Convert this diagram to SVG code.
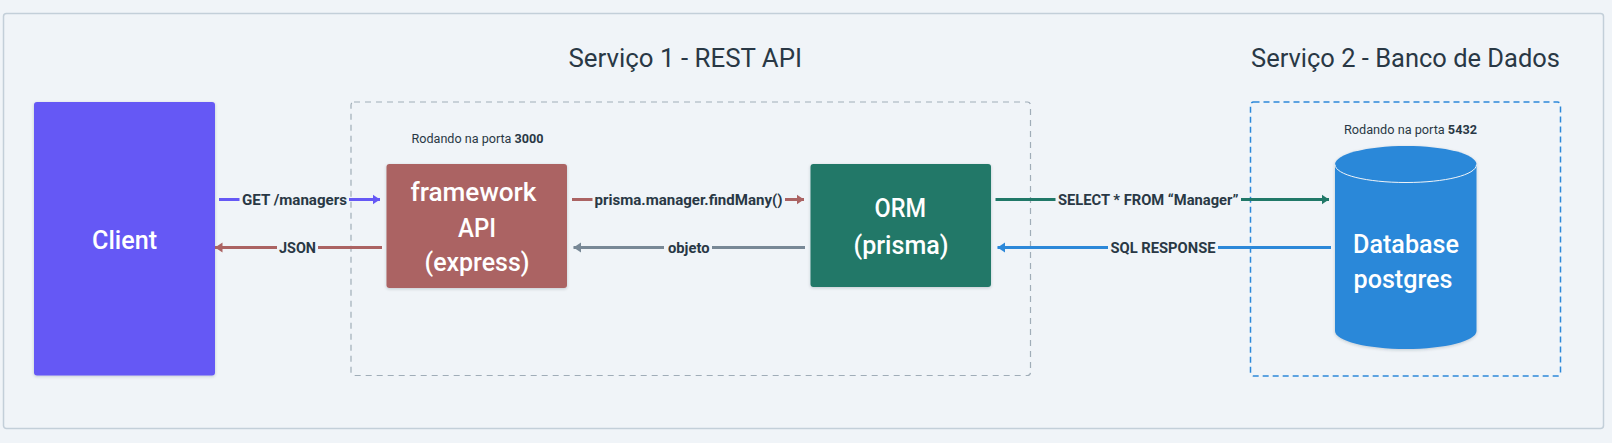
<svg xmlns="http://www.w3.org/2000/svg" width="1612" height="443" viewBox="0 0 1612 443">
<style>
text{font-family:"Roboto","Liberation Sans",sans-serif;fill:#293845}
.title{font-size:25px}
.note{font-size:12px}
.note tspan{font-weight:700}
.node text{fill:#fff;font-size:26px;font-weight:500;text-anchor:start}
.lbl{font-size:14.5px;font-weight:700}
.c{fill:none;stroke-width:3}
.box{filter:url(#sh)}
</style>
<defs>
<filter id="sh" x="-5%" y="-5%" width="110%" height="110%"><feDropShadow dx="0" dy="1" stdDeviation="1.5" flood-color="#293845" flood-opacity="0.22"/></filter>
<marker id="aP" markerUnits="userSpaceOnUse" markerWidth="10" markerHeight="12" refX="7.5" refY="6" orient="auto"><path d="M0 1L7.500 6L0 11Z" fill="#6558f5"/></marker>
<marker id="aR" markerUnits="userSpaceOnUse" markerWidth="10" markerHeight="12" refX="7.5" refY="6" orient="auto"><path d="M0 1L7.500 6L0 11Z" fill="#ab6363"/></marker>
<marker id="aG" markerUnits="userSpaceOnUse" markerWidth="10" markerHeight="12" refX="7.5" refY="6" orient="auto"><path d="M0 1L7.500 6L0 11Z" fill="#788896"/></marker>
<marker id="aT" markerUnits="userSpaceOnUse" markerWidth="10" markerHeight="12" refX="7.5" refY="6" orient="auto"><path d="M0 1L7.500 6L0 11Z" fill="#207868"/></marker>
<marker id="aB" markerUnits="userSpaceOnUse" markerWidth="10" markerHeight="12" refX="7.5" refY="6" orient="auto"><path d="M0 1L7.500 6L0 11Z" fill="#2c88d9"/></marker>
</defs>
<rect width="1612" height="443" fill="#f0f4f8"/>
<rect id="frame" x="3.5" y="13.5" width="1600" height="415" rx="3" fill="#f0f4f8" stroke="#c3cfd9" stroke-width="1.5"/>
<g id="service1">
<rect x="351" y="102" width="679.5" height="273.5" rx="3" fill="none" stroke="#a0adb8" stroke-width="1.2" stroke-dasharray="6 5"/>
<text class="title" x="568.5" y="67" textLength="233.5" lengthAdjust="spacingAndGlyphs">Serviço 1 - REST API</text>
<text class="note" x="411.5" y="143" textLength="132" lengthAdjust="spacingAndGlyphs">Rodando na porta <tspan>3000</tspan></text>
</g>
<g id="service2">
<rect x="1250.5" y="102" width="310" height="274" rx="3" fill="none" stroke="#2c88d9" stroke-width="1.5" stroke-dasharray="6 4"/>
<text class="title" x="1251" y="67" textLength="309" lengthAdjust="spacingAndGlyphs">Serviço 2 - Banco de Dados</text>
<text class="note" x="1344" y="134" textLength="133" lengthAdjust="spacingAndGlyphs">Rodando na porta <tspan>5432</tspan></text>
</g>
<g id="client" class="node">
<rect class="box" x="34" y="102" width="181" height="273.5" rx="3" fill="#6558f5"/>
<text x="92" y="249" textLength="65" lengthAdjust="spacingAndGlyphs">Client</text>
</g>
<g id="framework" class="node">
<rect class="box" x="386.5" y="164" width="180.5" height="124" rx="3" fill="#ab6363"/>
<text x="410.5" y="201" textLength="126" lengthAdjust="spacingAndGlyphs">framework</text>
<text x="458" y="236.500" textLength="38" lengthAdjust="spacingAndGlyphs">API</text>
<text x="424.5" y="271" textLength="105" lengthAdjust="spacingAndGlyphs">(express)</text>
</g>
<g id="orm" class="node">
<rect class="box" x="810.5" y="164" width="180.5" height="123" rx="3" fill="#207868"/>
<text x="874.5" y="217" textLength="51.5" lengthAdjust="spacingAndGlyphs">ORM</text>
<text x="853.5" y="254" textLength="95" lengthAdjust="spacingAndGlyphs">(prisma)</text>
</g>
<g id="database" class="node">
<path class="box" d="M1335 164.500C1335 154 1367 146 1406 146C1445 146 1476.500 154 1476.500 164.500V331C1476.500 341 1445 349 1406 349C1367 349 1335 341 1335 331Z" fill="#2c88d9"/>
<path d="M1335 164.500C1335 175 1367 182.500 1406 182.500C1445 182.500 1476.500 175 1476.500 164.500" fill="none" stroke="#f0f4f8" stroke-width="1"/>
<text x="1353" y="253" textLength="106" lengthAdjust="spacingAndGlyphs">Database</text>
<text x="1353.500" y="288" textLength="99" lengthAdjust="spacingAndGlyphs">postgres</text>
</g>
<g id="connectors">
<path class="c" stroke="#6558f5" d="M219 199.500H239.500"/>
<path class="c" stroke="#6558f5" marker-end="url(#aP)" d="M349 199.500H380"/>
<text class="lbl" x="242" y="205" textLength="105" lengthAdjust="spacingAndGlyphs">GET /managers</text>
<path class="c" stroke="#ab6363" marker-end="url(#aR)" d="M277 247.500H215"/>
<path class="c" stroke="#ab6363" d="M318 247.500H382"/>
<text class="lbl" x="279" y="253" textLength="37" lengthAdjust="spacingAndGlyphs">JSON</text>
<path class="c" stroke="#ab6363" d="M572 199.500H592.500"/>
<path class="c" stroke="#ab6363" marker-end="url(#aR)" d="M785 199.500H804"/>
<text class="lbl" x="594.500" y="205" textLength="188" lengthAdjust="spacingAndGlyphs">prisma.manager.findMany()</text>
<path class="c" stroke="#788896" marker-end="url(#aG)" d="M664 247.500H573.500"/>
<path class="c" stroke="#788896" d="M712 247.500H805"/>
<text class="lbl" x="668" y="253" textLength="41.500" lengthAdjust="spacingAndGlyphs">objeto</text>
<path class="c" stroke="#207868" d="M995.500 199.500H1055.500"/>
<path class="c" stroke="#207868" marker-end="url(#aT)" d="M1241 199.500H1329"/>
<text class="lbl" x="1058" y="205" textLength="180.500" lengthAdjust="spacingAndGlyphs">SELECT * FROM “Manager”</text>
<path class="c" stroke="#2c88d9" marker-end="url(#aB)" d="M1108 247.500H997.500"/>
<path class="c" stroke="#2c88d9" d="M1218 247.500H1331"/>
<text class="lbl" x="1110.500" y="253" textLength="105" lengthAdjust="spacingAndGlyphs">SQL RESPONSE</text>
</g>
</svg>
